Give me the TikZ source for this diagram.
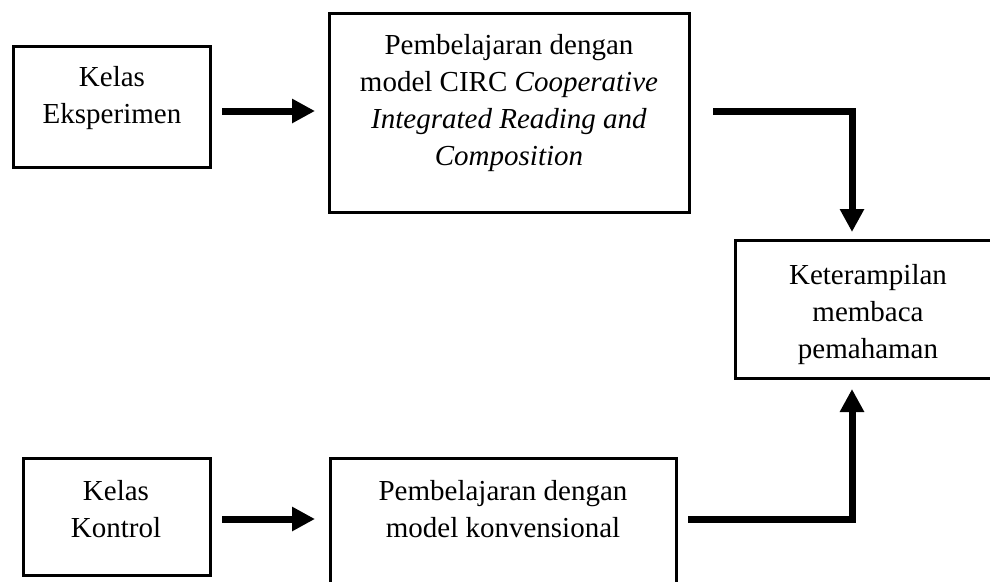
\documentclass[tikz,border=0pt]{standalone}
\usepackage{fontspec}
\setmainfont{Liberation Serif}
\usetikzlibrary{arrows.meta}
\tikzset{
  box/.style={draw, line width=3pt, inner sep=0pt, outer sep=0pt, anchor=north west},
  txt/.style={align=center, inner sep=0pt, anchor=base, font=\fontsize{29}{37}\selectfont},
  arr/.style={line width=7pt, line join=miter, -{Triangle[length=23pt,width=23pt]}},
}
\begin{document}
\begin{tikzpicture}[x=1pt,y=-1pt]
\useasboundingbox (0,0) rectangle (990,581);
\clip (0,0) rectangle (990,581);
% boxes
\node[box, minimum width=197pt, minimum height=121pt] (A) at (13,46) {};
\node[box, minimum width=360pt, minimum height=199pt] (B) at (329,13) {};
\node[box, minimum width=266pt, minimum height=138pt] (C) at (735,240) {};
\node[box, minimum width=187pt, minimum height=117pt] (D) at (23,458) {};
\node[box, minimum width=346pt, minimum height=140pt] (E) at (330,458) {};
% texts (anchored at the baseline of the last line)
\node[txt] (At) at (112,123) {Kelas\\Eksperimen};
\node[txt] (Bt) at (509,165) {Pembelajaran dengan\\model CIRC \textit{Cooperative}\\\textit{Integrated Reading and}\\\textit{Composition}};
\node[txt] (Ct) at (868,358) {Keterampilan\\membaca\\pemahaman};
\node[txt] (Dt) at (116,537) {Kelas\\Kontrol};
\node[txt] (Et) at (503,537) {Pembelajaran dengan\\model konvensional};
% connectors
\draw[arr] ([xshift=12pt,yshift=-4.5pt]A.east) -- ([xshift=-14pt,yshift=-4.5pt]A.east -| B.west);
\draw[arr] ([xshift=12pt,yshift=-2.5pt]D.east) -- ([xshift=-15pt,yshift=-2.5pt]D.east -| E.west);
\draw[arr] ([xshift=24pt,yshift=1.5pt]B.east) -| ([xshift=-16pt,yshift=8pt]C.north);
\draw[arr] ([xshift=12pt,yshift=9pt]E.east) -| ([xshift=-16pt,yshift=-11pt]C.south);
\end{tikzpicture}
\end{document}
